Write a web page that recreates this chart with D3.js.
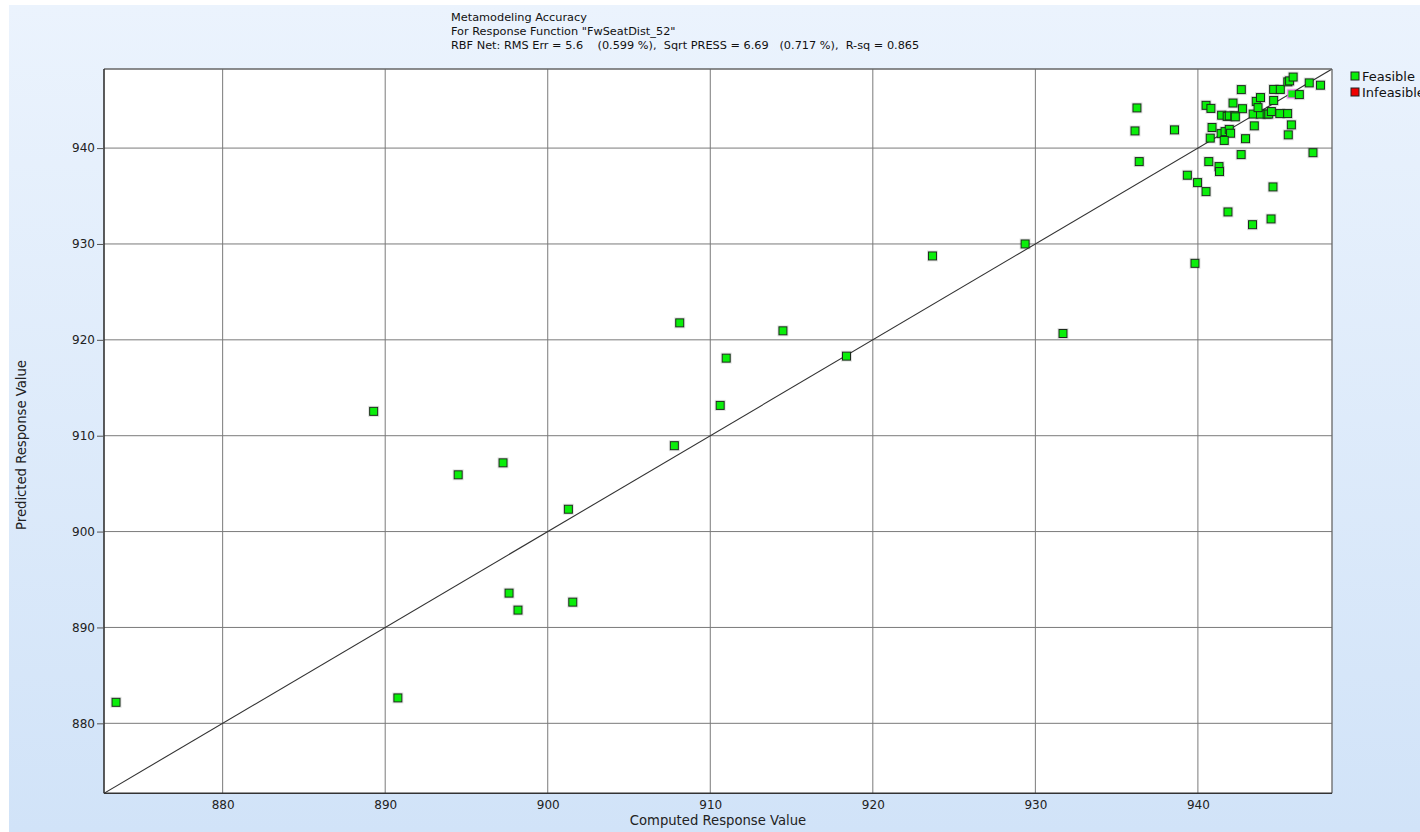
<!DOCTYPE html>
<html>
<head>
<meta charset="utf-8">
<script src="https://cdn.jsdelivr.net/npm/d3@7"></script>
<style>
  html, body { margin: 0; padding: 0; background: #ffffff; }
  svg { display: block; font-family: "DejaVu Sans", sans-serif; }
</style>
</head>
<body>
<svg id="chart" width="1420" height="832"></svg>
<script>
// ---- data ----
const titleLines = [
  "Metamodeling Accuracy",
  "For Response Function \"FwSeatDist_52\"",
  "RBF Net: RMS Err = 5.6    (0.599 %),  Sqrt PRESS = 6.69   (0.717 %),  R-sq = 0.865"
];
const xAxisTitle = "Computed Response Value";
const yAxisTitle = "Predicted Response Value";
const tickValues = [880, 890, 900, 910, 920, 930, 940];
const axisDomain = [872.7, 948.25];
const legendLabels = ["Feasible", "Infeasible"];
const legendColors = ["#0aee0a", "#ee0000"];

const computed = [
  873.44, 889.29, 890.78, 894.49, 897.25, 897.62, 898.17, 901.27, 901.54,
  907.79, 908.12, 910.61, 910.98, 914.47, 918.38, 923.67, 929.37, 931.70,
  936.25, 936.13, 938.56, 936.39, 940.50, 940.80, 942.67, 942.16, 942.74,
  941.46, 941.80, 941.93, 942.27, 942.30, 940.87, 941.43, 941.67, 941.93,
  942.01, 940.76, 941.62, 942.93, 943.47, 943.40, 943.85, 944.26, 944.36,
  944.52, 943.59, 943.85, 943.70, 944.66, 944.66, 945.07, 945.04, 945.52,
  945.75, 945.56, 945.53, 945.64, 945.86, 946.85, 947.54, 945.78, 946.24,
  947.08, 942.66, 940.67, 941.30, 941.33, 939.35, 939.98, 940.50, 944.62,
  941.85, 943.36, 944.50, 939.82
];
const predicted = [
  882.19, 912.54, 882.65, 905.92, 907.17, 893.58, 891.81, 902.33, 892.64,
  908.96, 921.77, 913.16, 918.09, 920.94, 918.30, 928.75, 930.00, 920.66,
  944.19, 941.79, 941.90, 938.59, 944.46, 944.14, 946.10, 944.70, 944.11,
  943.43, 943.31, 943.36, 943.38, 943.26, 942.15, 941.51, 941.72, 941.95,
  941.55, 941.04, 940.80, 940.98, 942.32, 943.55, 943.54, 943.55, 943.55,
  943.81, 944.87, 945.27, 944.22, 944.97, 946.12, 946.12, 943.60, 943.60,
  942.42, 941.38, 946.91, 947.01, 947.41, 946.80, 946.56, 945.65, 945.58,
  939.52, 939.32, 938.59, 938.07, 937.55, 937.17, 936.40, 935.46, 935.95,
  933.34, 932.01, 932.61, 927.98
];
const selectedIndex = [61];   // point drawn with magenta outline

// ---- layout ----
const W = 1420, H = 832;
const plot = { left: 104, right: 1332, top: 69, bottom: 793.3 };

const svg = d3.select("#chart");

// background gradient
const defs = svg.append("defs");
const grad = defs.append("linearGradient").attr("id", "bg")
  .attr("x1", 0).attr("y1", 0).attr("x2", 0).attr("y2", 1);
grad.append("stop").attr("offset", "0%").attr("stop-color", "#ebf3fd");
grad.append("stop").attr("offset", "100%").attr("stop-color", "#d1e3f8");

svg.append("rect").attr("x", 9).attr("y", 5).attr("width", W - 9).attr("height", H - 5)
  .attr("fill", "url(#bg)");

defs.append("clipPath").attr("id", "clip").append("rect")
  .attr("x", plot.left).attr("y", plot.top)
  .attr("width", plot.right - plot.left).attr("height", plot.bottom - plot.top);

const x = d3.scaleLinear().domain(axisDomain).range([plot.left, plot.right]);
const y = d3.scaleLinear().domain(axisDomain).range([plot.bottom, plot.top]);

// plot area
svg.append("rect").attr("x", plot.left).attr("y", plot.top)
  .attr("width", plot.right - plot.left).attr("height", plot.bottom - plot.top)
  .attr("fill", "#ffffff");

// grid
const grid = svg.append("g");
grid.selectAll("line.v").data(tickValues).join("line")
  .attr("x1", d => x(d)).attr("x2", d => x(d))
  .attr("y1", plot.top).attr("y2", plot.bottom)
  .attr("stroke", "#7a7a7a").attr("stroke-width", 1);
grid.selectAll("line.h").data(tickValues).join("line")
  .attr("y1", d => y(d)).attr("y2", d => y(d))
  .attr("x1", plot.left).attr("x2", plot.right)
  .attr("stroke", "#7a7a7a").attr("stroke-width", 1);

// diagonal
svg.append("line").attr("clip-path", "url(#clip)")
  .attr("x1", x(axisDomain[0])).attr("y1", y(axisDomain[0]))
  .attr("x2", x(axisDomain[1])).attr("y2", y(axisDomain[1]))
  .attr("stroke", "#333").attr("stroke-width", 1.1);

// frame (top/right)
svg.append("line").attr("x1", plot.left).attr("x2", plot.right)
  .attr("y1", plot.top).attr("y2", plot.top).attr("stroke", "#666").attr("stroke-width", 1.3);
svg.append("line").attr("x1", plot.right).attr("x2", plot.right)
  .attr("y1", plot.top).attr("y2", plot.bottom).attr("stroke", "#666").attr("stroke-width", 1.3);

// axes
const xAxis = d3.axisBottom(x).tickValues(tickValues).tickSize(0).tickPadding(7)
  .tickFormat(d3.format("d"));
const yAxis = d3.axisLeft(y).tickValues(tickValues).tickSize(7).tickPadding(2)
  .tickFormat(d3.format("d"));

const gx = svg.append("g").attr("transform", `translate(0,${plot.bottom})`).call(xAxis);
const gy = svg.append("g").attr("transform", `translate(${plot.left},0)`).call(yAxis);
[gx, gy].forEach(g => {
  g.select(".domain").attr("stroke", "#333").attr("stroke-width", 1.6);
  g.selectAll(".tick line").attr("stroke", "#555");
  g.selectAll(".tick text").attr("fill", "#222")
    .style("font-family", "DejaVu Sans").style("font-size", "12px");
});
gy.select(".domain").attr("d", `M0,${plot.top}V${plot.bottom}`);
gx.select(".domain").attr("d", `M${plot.left},0H${plot.right}`);

// axis titles
svg.append("text").attr("x", (plot.left + plot.right) / 2).attr("y", 825)
  .attr("text-anchor", "middle").attr("fill", "#222").style("font-size", "13.2px")
  .text(xAxisTitle);
svg.append("text").attr("transform", "translate(26,445) rotate(-90)")
  .attr("text-anchor", "middle").attr("fill", "#222").style("font-size", "13.2px")
  .text(yAxisTitle);

// title
svg.append("g").selectAll("text").data(titleLines).join("text")
  .attr("x", 451).attr("y", (d, i) => 21 + i * 14)
  .attr("fill", "#111").style("font-size", "11.3px")
  .attr("xml:space", "preserve").style("white-space", "pre")
  .text(d => d);

// points
const idx = d3.range(computed.length);
const pts = svg.append("g");
pts.selectAll("rect.halo").data(idx).join("rect")
  .attr("x", i => x(computed[i]) - 5).attr("y", i => y(predicted[i]) - 5)
  .attr("width", 10).attr("height", 10)
  .attr("fill", "none").attr("stroke", "rgba(0,0,0,0.12)").attr("stroke-width", 1);
pts.selectAll("rect.pt").data(idx).join("rect")
  .attr("x", i => x(computed[i]) - 4).attr("y", i => y(predicted[i]) - 4)
  .attr("width", 8).attr("height", 8)
  .attr("fill", legendColors[0])
  .attr("stroke", i => selectedIndex.includes(i) ? "#ff55ff" : "#1c2a1c")
  .attr("stroke-width", 1);

// legend
const lg = svg.append("g").attr("transform", "translate(1351,72)");
lg.selectAll("rect").data(legendLabels).join("rect")
  .attr("x", 0).attr("y", (d, i) => i * 16)
  .attr("width", 8).attr("height", 8)
  .attr("fill", (d, i) => legendColors[i]).attr("stroke", "#222").attr("stroke-width", 1);
lg.selectAll("text").data(legendLabels).join("text")
  .attr("x", 11).attr("y", (d, i) => i * 16 + 9)
  .attr("fill", "#111").style("font-size", "13px")
  .text(d => d);
</script>
</body>
</html>
